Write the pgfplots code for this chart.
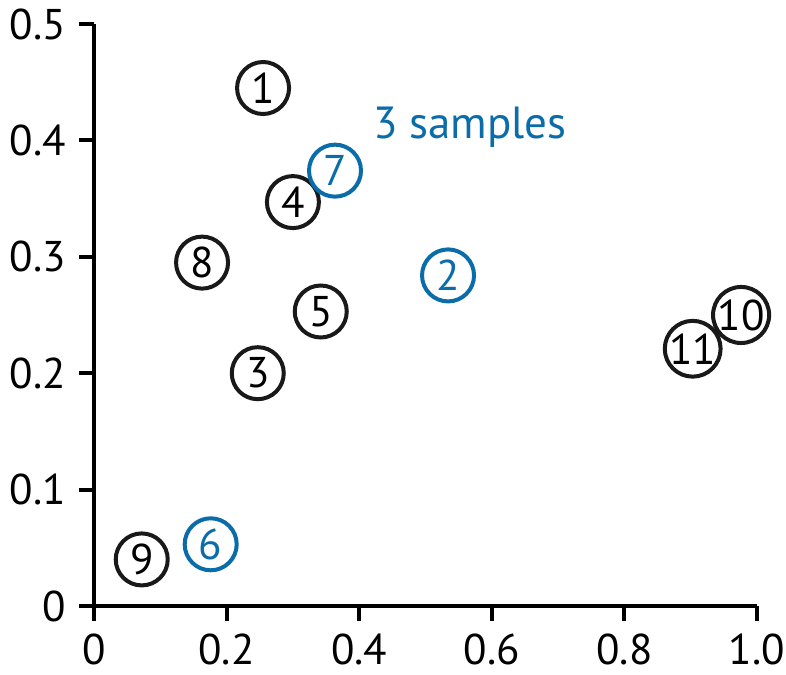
\documentclass[border=0pt]{standalone}
\usepackage{pgfplots}
\pgfplotsset{compat=1.18}
\usepackage{fontspec}
\setmainfont{PT Sans}
\definecolor{myblue}{RGB}{10,108,168}
\begin{document}
\begin{tikzpicture}
\begin{axis}[
  name=ax,
  scale only axis, width=331.5pt, height=291pt,
  xmin=0, xmax=1, ymin=0, ymax=0.5,
  axis lines=left, axis line style={-, line width=2pt},
  xtick={0,0.2,0.4,0.6,0.8,1.0}, xticklabels={0,0.2,0.4,0.6,0.8,1.0},
  ytick={0,0.1,0.2,0.3,0.4,0.5}, yticklabels={0,0.1,0.2,0.3,0.4,0.5},
  tick align=outside, major tick length=7.5pt,
  tick style={line width=2pt, black},
  ticklabel style={font=\fontsize{21.5}{24}\selectfont},
  yticklabel style={xshift=-3pt},
  xticklabel style={yshift=-3pt},
  clip=false,
  point meta=explicit symbolic,
  nodes near coords={\pgfplotspointmeta},
]
\addplot[only marks, mark=none, nodes near coords style={circle, draw=black!90, text=black, line width=2pt, minimum size=26pt, inner sep=0pt, anchor=center, font=\fontsize{21.5}{24}\selectfont}] table[meta=lab] {
x y lab
0.255 0.445 1
0.247 0.200 3
0.300 0.347 4
0.342 0.253 5
0.163 0.295 8
0.072 0.040 9
0.976 0.250 10
0.903 0.221 11
};
\addplot[only marks, mark=none, nodes near coords style={circle, draw=myblue, text=myblue, line width=2pt, minimum size=26pt, inner sep=0pt, anchor=center, font=\fontsize{21.5}{24}\selectfont}] table[meta=lab] {
x y lab
0.534 0.284 2
0.176 0.053 6
0.3635 0.374 7
};
\node[text=myblue, font=\fontsize{22.5}{25}\selectfont] at (axis cs:0.567,0.411) {3 samples};
\end{axis}
\pgfresetboundingbox
\path ([xshift=-47pt,yshift=-34.5pt]ax.south west) rectangle ([xshift=14.5pt,yshift=12pt]ax.north east);
\end{tikzpicture}
\end{document}
